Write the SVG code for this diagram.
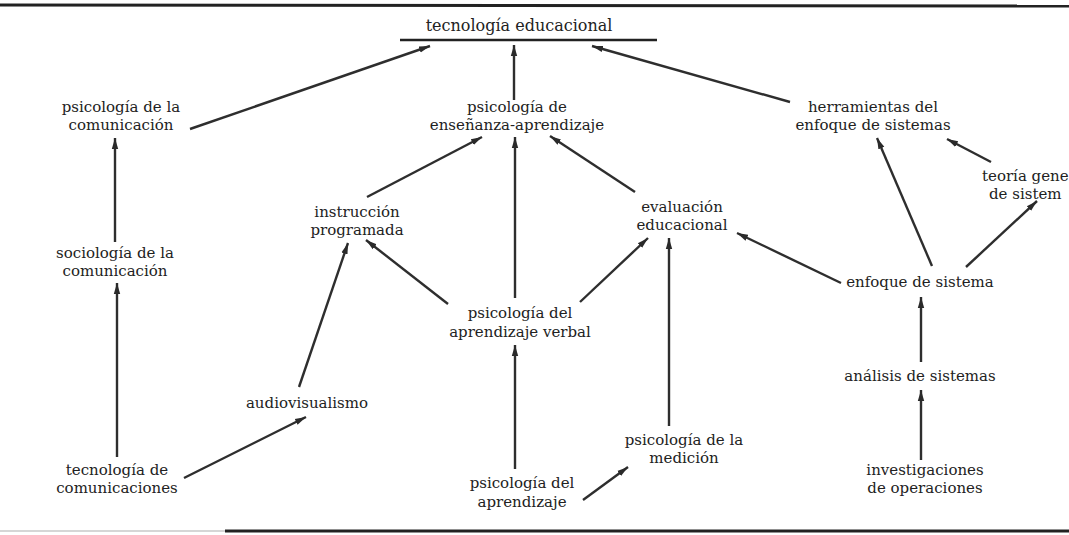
<svg xmlns="http://www.w3.org/2000/svg" width="1069" height="535" viewBox="0 0 1069 535">
<defs>
<marker id="ah" markerUnits="userSpaceOnUse" markerWidth="12" markerHeight="8" refX="11" refY="4" orient="auto">
<path d="M0,0.8 L11,4 L0,7.2 Z" fill="#2a2a2a"/>
</marker>
<style>
text{font-family:"DejaVu Serif","Liberation Serif",serif;font-size:15px;fill:#222;text-anchor:middle}
.t{font-size:16px}
.s{text-anchor:start}
.c line{stroke:#2e2e2e;stroke-width:2.4;marker-end:url(#ah)}
.b{stroke:#222;stroke-width:3}
</style>
</defs>
<rect width="1069" height="535" fill="#fff"/>
<g id="frame">
<line class="b" x1="0" y1="5" x2="1069" y2="6"/>
<line x1="0" y1="531" x2="230" y2="531" stroke="#c8c8c8" stroke-width="1.5"/>
<line class="b" x1="225" y1="531" x2="1069" y2="531"/>
</g>
<g id="n-tecnologia-educacional">
<text class="t" x="519" y="31">tecnología educacional</text>
<line x1="400" y1="40" x2="657" y2="40" stroke="#222" stroke-width="2.5"/>
</g>
<g id="n-psicologia-comunicacion"><text x="121" y="112">psicología de la</text><text x="121" y="130">comunicación</text></g>
<g id="n-psicologia-ensenanza"><text x="517" y="112">psicología de</text><text x="517" y="130">enseñanza-aprendizaje</text></g>
<g id="n-herramientas"><text x="873" y="112">herramientas del</text><text x="873" y="130">enfoque de sistemas</text></g>
<g id="n-teoria"><text class="s" x="982" y="181">teoría gene</text><text class="s" x="989" y="199">de sistem</text></g>
<g id="n-instruccion"><text x="357" y="217">instrucción</text><text x="357" y="235">programada</text></g>
<g id="n-evaluacion"><text x="682" y="212">evaluación</text><text x="682" y="230">educacional</text></g>
<g id="n-sociologia"><text x="115" y="258">sociología de la</text><text x="115" y="276">comunicación</text></g>
<g id="n-enfoque"><text x="920" y="287">enfoque de sistema</text></g>
<g id="n-verbal"><text x="520" y="318">psicología del</text><text x="520" y="337">aprendizaje verbal</text></g>
<g id="n-analisis"><text x="920" y="381">análisis de sistemas</text></g>
<g id="n-audiovisualismo"><text x="307" y="408">audiovisualismo</text></g>
<g id="n-medicion"><text x="684" y="445">psicología de la</text><text x="684" y="463">medición</text></g>
<g id="n-tecnologia-comunicaciones"><text x="117" y="475">tecnología de</text><text x="117" y="493">comunicaciones</text></g>
<g id="n-investigaciones"><text x="925" y="475">investigaciones</text><text x="925" y="493">de operaciones</text></g>
<g id="n-aprendizaje"><text x="522" y="488">psicología del</text><text x="522" y="507">aprendizaje</text></g>
<g id="connectors" class="c">
<line x1="190" y1="129" x2="430" y2="46"/>
<line x1="514" y1="100" x2="514" y2="45"/>
<line x1="790" y1="102" x2="592" y2="46"/>
<line x1="115" y1="242" x2="115" y2="138"/>
<line x1="117" y1="457" x2="117" y2="283"/>
<line x1="184" y1="478" x2="306" y2="417"/>
<line x1="299" y1="387" x2="348" y2="243"/>
<line x1="448" y1="304" x2="366" y2="240"/>
<line x1="367" y1="197" x2="482" y2="137"/>
<line x1="515" y1="298" x2="515" y2="137"/>
<line x1="635" y1="192" x2="550" y2="136"/>
<line x1="580" y1="302" x2="648" y2="238"/>
<line x1="669" y1="426" x2="669" y2="238"/>
<line x1="583" y1="500" x2="628" y2="467"/>
<line x1="515" y1="469" x2="515" y2="345"/>
<line x1="841" y1="283" x2="737" y2="233"/>
<line x1="932" y1="266" x2="877" y2="138"/>
<line x1="966" y1="267" x2="1037" y2="201"/>
<line x1="991" y1="162" x2="947" y2="139"/>
<line x1="921" y1="362" x2="921" y2="297"/>
<line x1="921" y1="460" x2="921" y2="390"/>
</g>
</svg>
